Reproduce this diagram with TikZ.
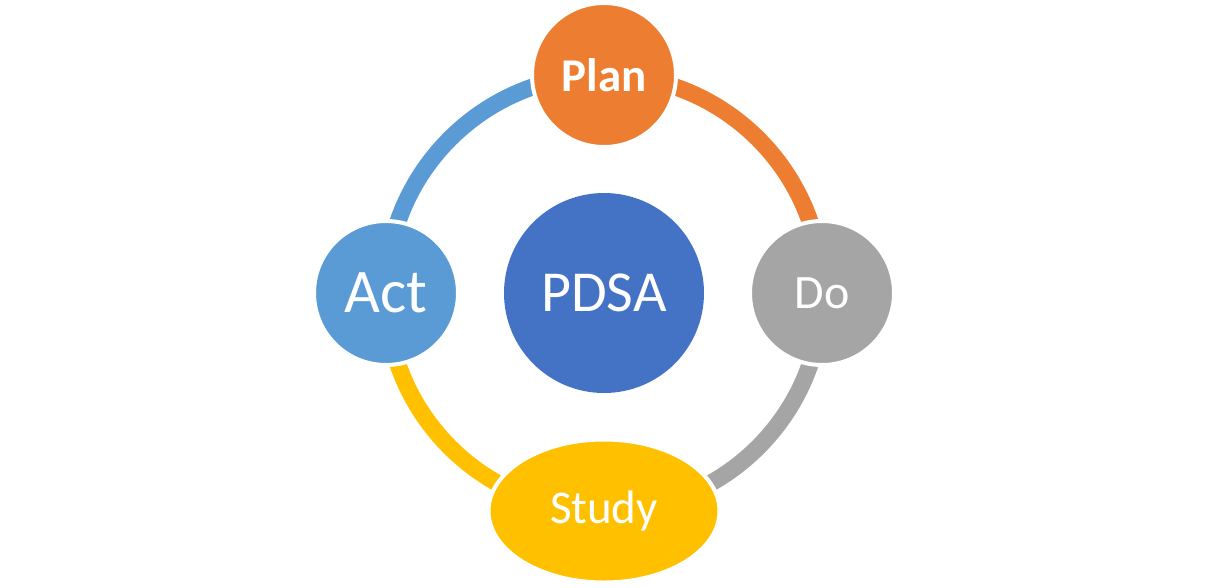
\documentclass[tikz,border=0pt]{standalone}
\usepackage{fontspec}
\setmainfont{Carlito}
\usetikzlibrary{calc}
\usetikzlibrary{shapes.geometric}
\usetikzlibrary{backgrounds}
\definecolor{pdsaBlue}{HTML}{4472C4}
\definecolor{actBlue}{HTML}{5B9BD5}
\definecolor{planOrange}{HTML}{ED7D31}
\definecolor{doGray}{HTML}{A5A5A5}
\definecolor{studyGold}{HTML}{FFC000}

\begin{document}
\begin{tikzpicture}[x=1pt, y=-1pt,
  stage/.style={circle, draw=white, line width=4, text=white, inner sep=0, minimum size=144},
  ring/.style={line width=17}]
\def\R{218}
\useasboundingbox (0,0) rectangle (1208,587);
\coordinate (c) at (604,293);
\node[circle, fill=pdsaBlue, text=white, inner sep=0, minimum size=200, font=\fontsize{58}{64}\selectfont] (pdsa) at (c) {PDSA};
\node[stage, fill=planOrange, font=\fontsize{47}{52}\selectfont\bfseries] (plan) at ($(c)+(0,-\R)$) {Plan};
\node[stage, fill=doGray, font=\fontsize{48}{54}\selectfont] (do) at ($(c)+(\R,0)$) {Do};
\node[stage, fill=actBlue, font=\fontsize{62}{68}\selectfont] (act) at ($(c)+(-\R,0)$) {Act};
\node[stage, ellipse, fill=studyGold, minimum width=231, minimum height=143, font=\fontsize{47}{52}\selectfont] (study) at ($(c)+(0,\R)$) {Study};
% ring pieces go under the stages
\begin{scope}[on background layer]
\foreach \from/\col/\ang in {plan/planOrange/90, do/doGray/0, study/studyGold/-90, act/actBlue/180} {
 \draw[ring, \col] (\from.center) arc[start angle=\ang, delta angle=-90, x radius=\R, y radius=-\R];
}
\end{scope}
\end{tikzpicture}
\end{document}
